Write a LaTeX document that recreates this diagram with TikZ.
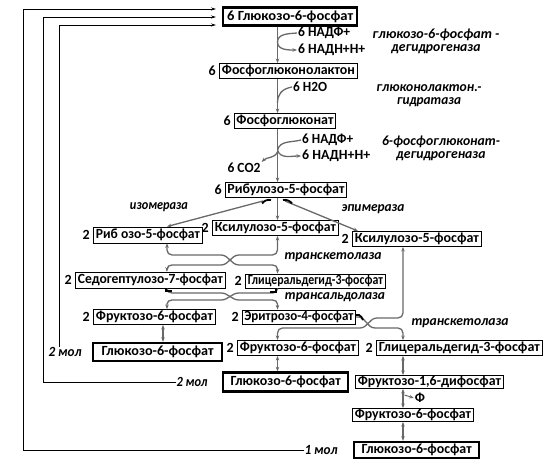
\documentclass[tikz,border=0pt]{standalone}
\usepackage{fontspec}
\usepackage{graphicx}
\setmainfont{Carlito}
\usetikzlibrary{arrows.meta}
\newcommand\mybx{\fontsize{14}{15}\selectfont\bfseries}
\newcommand\myit{\fontsize{14}{13}\selectfont\bfseries\itshape}
\newcommand\fw[2]{\resizebox{#1pt}{\height}{#2}}
\definecolor{lg}{RGB}{105,105,105}
\begin{document}
\begin{tikzpicture}[x=1pt,y=-1pt,
  box/.style={draw, line width=0.9pt, inner sep=0pt, anchor=west, font=\mybx},
  thickbox/.style={box, line width=2.4pt},
  num/.style={font=\mybx, inner sep=0pt, anchor=east},
  lbl/.style={font=\mybx, inner sep=1pt, anchor=west},
  enz/.style={font=\myit, inner sep=0pt, align=center},
  gline/.style={draw=lg, line width=1.3pt, >={Stealth[length=4.5pt,width=3.5pt]}},
  fb/.style={draw=black, line width=0.8pt, >={Stealth[length=5pt,width=3pt]}},
  hook/.style={draw=black, line width=1.8pt}]
\useasboundingbox (0,0) rectangle (550,465);
\coordinate (cL) at (167,0);
\coordinate (cLb) at (163,0);
\coordinate (cM) at (277.5,0);
\coordinate (cR) at (403,0);
\coordinate (cI) at (59,0);

% boxes
\node[thickbox, minimum width=134, minimum height=18] (g6ptop) at (222,16.5) {\fw{126}{6 Глюкозо-6-фосфат}};
\node[box, minimum width=138, minimum height=15] (lak) at (219,71) {\fw{133}{Фосфоглюконолактон}};
\node[num] at (216,71) {6};
\node[box, minimum width=101, minimum height=15] (fg) at (234,121) {\fw{97}{Фосфоглюконат}};
\node[num] at (231,121) {6};
\node[box, minimum width=121, minimum height=15] (rib5) at (225,190) {\fw{117}{Рибулозо-5-фосфат}};
\node[num] at (222,190) {6};
\node[box, minimum width=109, minimum height=16] (ribo) at (93,235) {\fw{104}{Риб озо-5-фосфат}};
\node[num] at (90,235) {2};
\node[box, minimum width=126, minimum height=15] (xylm) at (212,228) {\fw{121}{Ксилулозо-5-фосфат}};
\node[num] at (209,228) {2};
\node[box, minimum width=129, minimum height=15] (xylr) at (352,239) {\fw{124}{Ксилулозо-5-фосфат}};
\node[num] at (349,239) {2};
\node[box, minimum width=150, minimum height=16] (sedo) at (75,280) {\fw{145}{Седогептулозо-7-фосфат}};
\node[num] at (72,280) {2};
\node[box, minimum width=140, minimum height=14] (glym) at (245,281) {\fw{135}{Глицеральдегид-3-фосфат}};
\node[num] at (242,281) {2};
\node[box, minimum width=122, minimum height=15] (frl) at (93,317) {\fw{117}{Фруктозо-6-фосфат}};
\node[num] at (90,317) {2};
\node[box, minimum width=113, minimum height=14] (ery) at (242,317) {\fw{109}{Эритрозо-4-фосфат}};
\node[num] at (239,317) {2};
\node[thickbox, minimum width=129, minimum height=18] (g6pl) at (92,352) {\fw{112}{Глюкозо-6-фосфат}};
\node[box, minimum width=121, minimum height=15] (frm) at (237,348) {\fw{116}{Фруктозо-6-фосфат}};
\node[num] at (234,348) {2};
\node[box, minimum width=166, minimum height=15] (glyr) at (376,348) {\fw{161}{Глицеральдегид-3-фосфат}};
\node[num] at (373,348) {2};
\node[thickbox, minimum width=125, minimum height=19] (g6pm) at (222,382) {\fw{110}{Глюкозо-6-фосфат}};
\node[box, minimum width=148, minimum height=13] (f16) at (355,382) {\fw{143}{Фруктозо-1,6-дифосфат}};
\node[box, minimum width=121, minimum height=13] (frr) at (352,415) {\fw{116}{Фруктозо-6-фосфат}};
\node[thickbox, minimum width=125, minimum height=16] (g6pb) at (353,450) {\fw{110}{Глюкозо-6-фосфат}};

% cofactor labels
\node[lbl] (nadp1) at (297,33) {\fw{52}{6 НАДФ+}};
\node[lbl] (nadh1) at (297,50) {\fw{67}{6 НАДН+Н+}};
\node[lbl] (h2o) at (292,87) {\fw{34}{6 Н2О}};
\node[lbl] (nadp2) at (301,140) {\fw{51}{6 НАДФ+}};
\node[lbl] (nadh2) at (301,156) {\fw{68}{6 НАДН+Н+}};
\node[font=\mybx, inner sep=1pt] (co2) at (244,168) {\fw{33}{6 СО2}};
\node[font=\mybx, inner sep=1pt] (phi) at (420,398) {Ф};

% enzymes
\node[enz] at (436,41.5) {\fw{127}{глюкозо-6-фосфат -}\\\fw{89}{дегидрогеназа}};
\node[enz] at (429,96) {\fw{105}{глюконолактон.-}\\\fw{64}{гидратаза}};
\node[enz] at (441,148.5) {\fw{118}{6-фосфоглюконат-}\\\fw{89}{дегидрогеназа}};
\node[enz] at (159,207) {\fw{58}{изомераза}};
\node[enz] at (373,209) {\fw{63}{эпимераза}};
\node[enz] at (333,257) {\fw{97}{транскетолаза}};
\node[enz] at (335,297) {\fw{100}{трансальдолаза}};
\node[enz] at (460,323) {\fw{97}{транскетолаза}};
\node[enz] (mol2l) at (65,352) {\fw{33}{2 мол}};
\node[enz] (mol2m) at (192,382) {\fw{31}{2 мол}};
\node[enz] (mol1) at (321,450) {\fw{33}{1 мол}};

% main column
\draw[gline,->] (g6ptop.south -| cM) -- (lak.north -| cM);
\draw[gline,->] (lak.south -| cM) -- (fg.north -| cM);
\draw[gline,->] (fg.south -| cM) -- (rib5.north -| cM);
\draw[gline,->] (rib5.south -| cM) -- (xylm.north -| cM);
\draw[gline,->] (nadp1.west) to[out=185,in=90] (277.5,42) to[out=-90,in=180] (nadh1.west);
\draw[gline] (h2o.west) .. controls (281,89) and (277.5,95) .. (277.5,103);
\draw[gline] (nadp2.west) to[out=195,in=75] (277.5,150);
\draw[gline,->] (277.5,150) to[out=-75,in=180] (nadh2.west);
\draw[gline,->] (277.5,152) to[out=-115,in=45] (co2.north east);

% isomerase / epimerase
\draw[gline,->] (263,201) -- (ribo.north -| cL);
\draw[gline,->] (285,201) -- ([xshift=6pt]xylr.north west);
\draw[hook] (262,203.5) to[bend left=30] (271,200);
\draw[hook] (283,200) to[bend left=30] (292,203.5);

% transketolase 1
\draw[gline,<->] (ribo.south -| cL) -- (167,250) to[out=-90,in=180] (172,255) -- (221,255) to[out=0,in=180] (239,265) -- (272.5,265) to[out=0,in=90] (277.5,269) -- (glym.north -| cM);
\draw[gline,<->] (xylm.south -| cM) -- (277.5,250) to[out=-90,in=0] (272.5,255) -- (239,255) to[out=180,in=0] (221,265) -- (172,265) to[out=180,in=90] (167,269) -- (sedo.north -| cL);

% transaldolase
\draw[gline,->] (sedo.south -| cL) -- (167,289) to[out=-90,in=180] (172,293) -- (221,293) to[out=0,in=180] (239,300) -- (272.5,300) to[out=0,in=90] (277.5,304) -- (ery.north -| cM);
\draw[gline,->] (glym.south -| cM) -- (277.5,289) to[out=-90,in=0] (272.5,293) -- (239,293) to[out=180,in=0] (221,300) -- (172,300) to[out=180,in=90] (167,304) -- (frl.north -| cL);
\draw[hook] (166,288) -- (166,291) -- (172,291);
\draw[hook] (276,289) -- (276,292) -- (270,292);

% transketolase 2
\draw[gline,<->] (xylr.south -| cR) -- (403,313) to[out=-90,in=0] (398,318) -- (377,318) to[out=180,in=0] (360,328) -- (282.5,328) to[out=180,in=90] (277.5,333) -- (frm.north -| cM);
\draw[gline,->] (ery.east) -- (358,317) to[out=0,in=180] (375,328) -- (398,328) to[out=0,in=90] (403,333) -- (glyr.north -| cR);
\draw[hook] (356,315) -- (359,315) to[bend left=20] (363,320);

% bottom verticals
\draw[gline,<->] (frl.south -| cLb) -- (g6pl.north -| cLb);
\draw[gline,<->] (frm.south -| cM) -- (g6pm.north -| cM);
\draw[gline,<->] (glyr.south -| cR) -- (f16.north -| cR);
\draw[gline,<->] (f16.south -| cR) -- (frr.north -| cR);
\draw[gline,<->] (frr.south -| cR) -- (g6pb.north -| cR);
\draw[gline,->, line width=1pt] (404.5,395) -- (phi.west);

% feedback lines
\draw[fb,->] (mol1.west) -| (23,9) -- (216,9);
\draw[fb,->] (mol2m.west) -| (43,17) -- (216,17);
\draw[fb,->] (mol2l.north -| cI) |- (216,25);
\end{tikzpicture}
\end{document}
